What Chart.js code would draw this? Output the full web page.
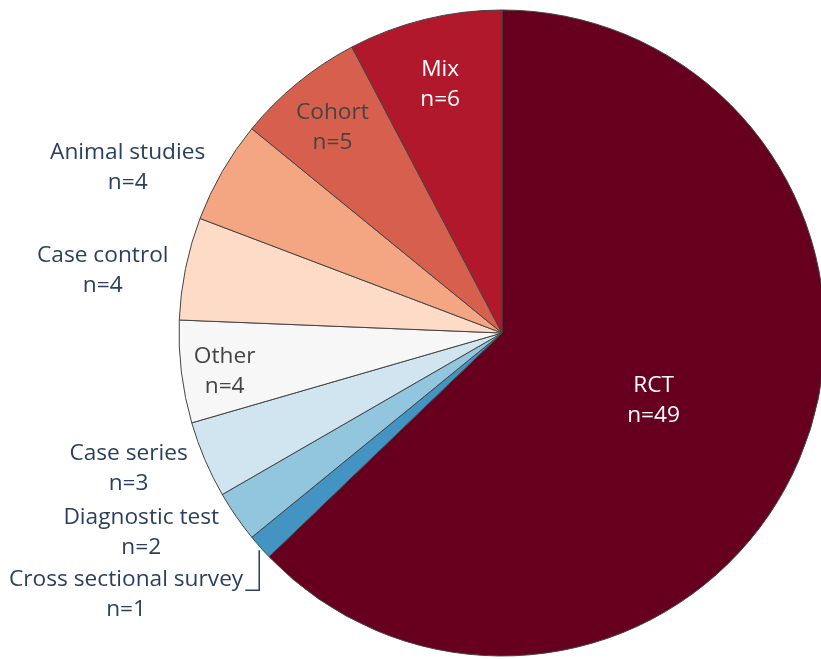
<!DOCTYPE html>
<html>
<head>
<meta charset="utf-8">
<script src="https://cdn.jsdelivr.net/npm/chart.js@4.4.1/dist/chart.umd.min.js"></script>
<style>
  html, body { margin: 0; padding: 0; background: #fff; overflow: hidden; }
  #wrap { width: 821px; height: 659px; overflow: hidden; }
</style>
</head>
<body>
<div id="wrap"><canvas id="studyPie" width="1004" height="666"></canvas></div>
<script>
// clockwise from 12 o'clock
const studyTypes = ['RCT', 'Cross sectional survey', 'Diagnostic test', 'Case series', 'Other', 'Case control', 'Animal studies', 'Cohort', 'Mix'];
const studyCounts = [49, 1, 2, 3, 4, 4, 4, 5, 6];
const sliceColors = ['#67001f', '#4393c3', '#92c5de', '#d1e5f0', '#f7f7f7', '#fddbc7', '#f4a582', '#d6604d', '#b2182b'];

// where each label goes: inside at a fraction of the radius, or outside with a vertical nudge
const labelPlacement = [
  { inside: 0.51, color: '#ffffff' },
  { outside: 46, leader: true },
  { outside: 15 },
  { outside: 8 },
  { inside: 0.865, color: '#444444', nudge: 2 },
  { outside: 1 },
  { outside: -4.5 },
  { inside: 0.83, color: '#444444' },
  { inside: 0.8, color: '#ffffff' }
];

const FONT = '22.7px "Open Sans"';
const LINE_GAP = 30;
const OUT_COLOR = '#2a3f5f';

const pieLabels = {
  id: 'pieLabels',
  afterDatasetsDraw(chart) {
    const ctx = chart.ctx;
    const meta = chart.getDatasetMeta(0);
    ctx.save();
    ctx.font = FONT;
    ctx.textBaseline = 'middle';
    ctx.textAlign = 'center';
    meta.data.forEach((arc, i) => {
      const p = arc.getProps(['x', 'y', 'startAngle', 'endAngle', 'outerRadius'], true);
      const mid = (p.startAngle + p.endAngle) / 2;
      const ux = Math.cos(mid), uy = Math.sin(mid);
      const lines = [studyTypes[i], 'n=' + studyCounts[i]];
      const place = labelPlacement[i];
      let cx, cy;
      if (place.inside !== undefined) {
        cx = p.x + ux * p.outerRadius * place.inside;
        cy = p.y + uy * p.outerRadius * place.inside + 2.5 + (place.nudge || 0);
        ctx.fillStyle = place.color;
      } else {
        const ex = p.x + ux * p.outerRadius;
        const ey = p.y + uy * p.outerRadius;
        const w = Math.max(...lines.map(l => ctx.measureText(l).width));
        const right = ex - 17;
        cx = right - w / 2;
        cy = ey + place.outside + 1;
        ctx.fillStyle = OUT_COLOR;
        if (place.leader) {
          const ly = cy - LINE_GAP / 2 + 11;
          ctx.strokeStyle = OUT_COLOR;
          ctx.lineWidth = 1.5;
          ctx.beginPath();
          ctx.moveTo(ex - 1, ey + 3);
          ctx.lineTo(ex - 1, ly);
          ctx.lineTo(right + 2, ly);
          ctx.stroke();
        }
      }
      ctx.fillText(lines[0], cx, cy - LINE_GAP / 2);
      ctx.fillText(lines[1], cx, cy + LINE_GAP / 2);
    });
    ctx.restore();
  }
};

new Chart(document.getElementById('studyPie'), {
  type: 'pie',
  data: {
    labels: studyTypes,
    datasets: [{
      data: studyCounts,
      backgroundColor: sliceColors,
      borderColor: '#444444',
      borderWidth: 1,
      hoverOffset: 0
    }]
  },
  options: {
    responsive: false,
    animation: false,
    devicePixelRatio: 1,
    radius: 323,
    layout: { padding: 0 },
    plugins: {
      legend: { display: false },
      tooltip: { enabled: false }
    }
  },
  plugins: [pieLabels]
});
</script>
</body>
</html>
